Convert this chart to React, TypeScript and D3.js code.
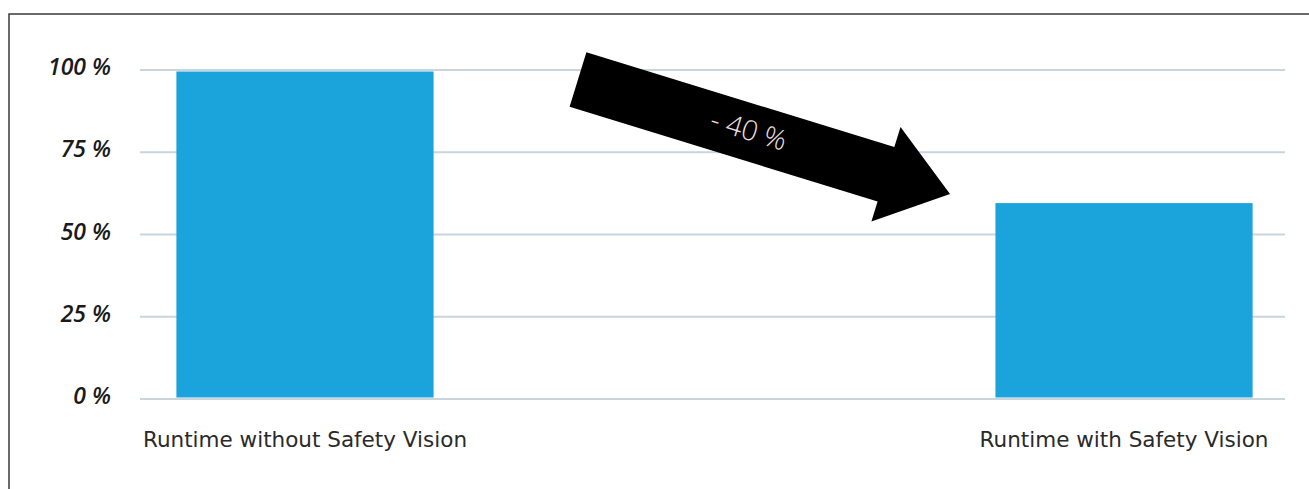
import React from "react";
import * as d3 from "d3";

const categories = ["Runtime without Safety Vision", "Runtime with Safety Vision"];
const runtimeValues = [100, 60];
const yTicks = [0, 25, 50, 75, 100];
const yTickLabels = ["0 %", "25 %", "50 %", "75 %", "100 %"];
const changeLabel = "- 40 %";

const W = 1309;
const H = 489;

export default function App() {
  const x = d3
    .scaleBand<string>()
    .domain(categories)
    .range([142, 1287])
    .paddingInner(0.686)
    .paddingOuter(0.042);
  const y = d3.scaleLinear().domain([0, 100]).range([399, 70]);

  // arrow annotation geometry (tail centre -> tip)
  const tail: [number, number] = [578, 79.5];
  const tip: [number, number] = [950, 194];
  const shaftW = 57;
  const headW = 99;
  const headL = 67;
  const dx = tip[0] - tail[0];
  const dy = tip[1] - tail[1];
  const len = Math.hypot(dx, dy);
  const ux = dx / len;
  const uy = dy / len;
  const px = -uy;
  const py = ux;
  const bx = tip[0] - ux * headL;
  const by = tip[1] - uy * headL;
  const pts: [number, number][] = [
    [tail[0] + px * shaftW / 2, tail[1] + py * shaftW / 2],
    [bx + px * shaftW / 2, by + py * shaftW / 2],
    [bx + px * headW / 2, by + py * headW / 2],
    tip,
    [bx - px * headW / 2, by - py * headW / 2],
    [bx - px * shaftW / 2, by - py * shaftW / 2],
    [tail[0] - px * shaftW / 2, tail[1] - py * shaftW / 2],
  ];
  const arrowPath = d3.line()(pts) + "Z";
  const angle = (Math.atan2(dy, dx) * 180) / Math.PI;
  const labelX = 749;
  const labelY = 129;

  return (
    <svg
      width={W}
      height={H}
      style={{ position: "absolute", left: 0, top: 0, background: "#fff" }}
    >
      <rect x={9} y={14} width={1400} height={600} fill="none" stroke="#3a3a3a" strokeWidth={1.5} />
      {yTicks.map((t) => (
        <line
          key={t}
          x1={140}
          x2={1285}
          y1={y(t)}
          y2={y(t)}
          stroke="#c9d5dd"
          strokeWidth={2}
        />
      ))}
      {yTicks.map((t, i) => (
        <text
          key={"l" + t}
          x={111}
          y={y(t) + 5}
          textAnchor="end"
          fontFamily="'Open Sans', sans-serif"
          fontStyle="italic"
          fontWeight={600}
          fontSize={23}
          fill="#1a1a1a"
        >
          {yTickLabels[i]}
        </text>
      ))}
      {categories.map((c, i) => (
        <rect
          key={c}
          x={x(c)}
          y={y(runtimeValues[i]) + 1.5}
          width={x.bandwidth()}
          height={y(0) - y(runtimeValues[i]) - 3}
          fill="#1ba3dc"
        />
      ))}
      {categories.map((c) => (
        <text
          key={"c" + c}
          x={(x(c) as number) + x.bandwidth() / 2}
          y={447}
          textAnchor="middle"
          fontFamily="'DejaVu Sans', sans-serif"
          fontSize={21.5}
          fill="#2a2a2a"
        >
          {c}
        </text>
      ))}
      <path d={arrowPath} fill="#000" />
      <text
        x={labelX}
        y={labelY}
        transform={`rotate(${angle} ${labelX} ${labelY})`}
        textAnchor="middle"
        dominantBaseline="central"
        fontFamily="'Open Sans', sans-serif"
        fontWeight={300}
        fontSize={28}
        fill="#f5e0e0"
      >
        {changeLabel}
      </text>
    </svg>
  );
}
